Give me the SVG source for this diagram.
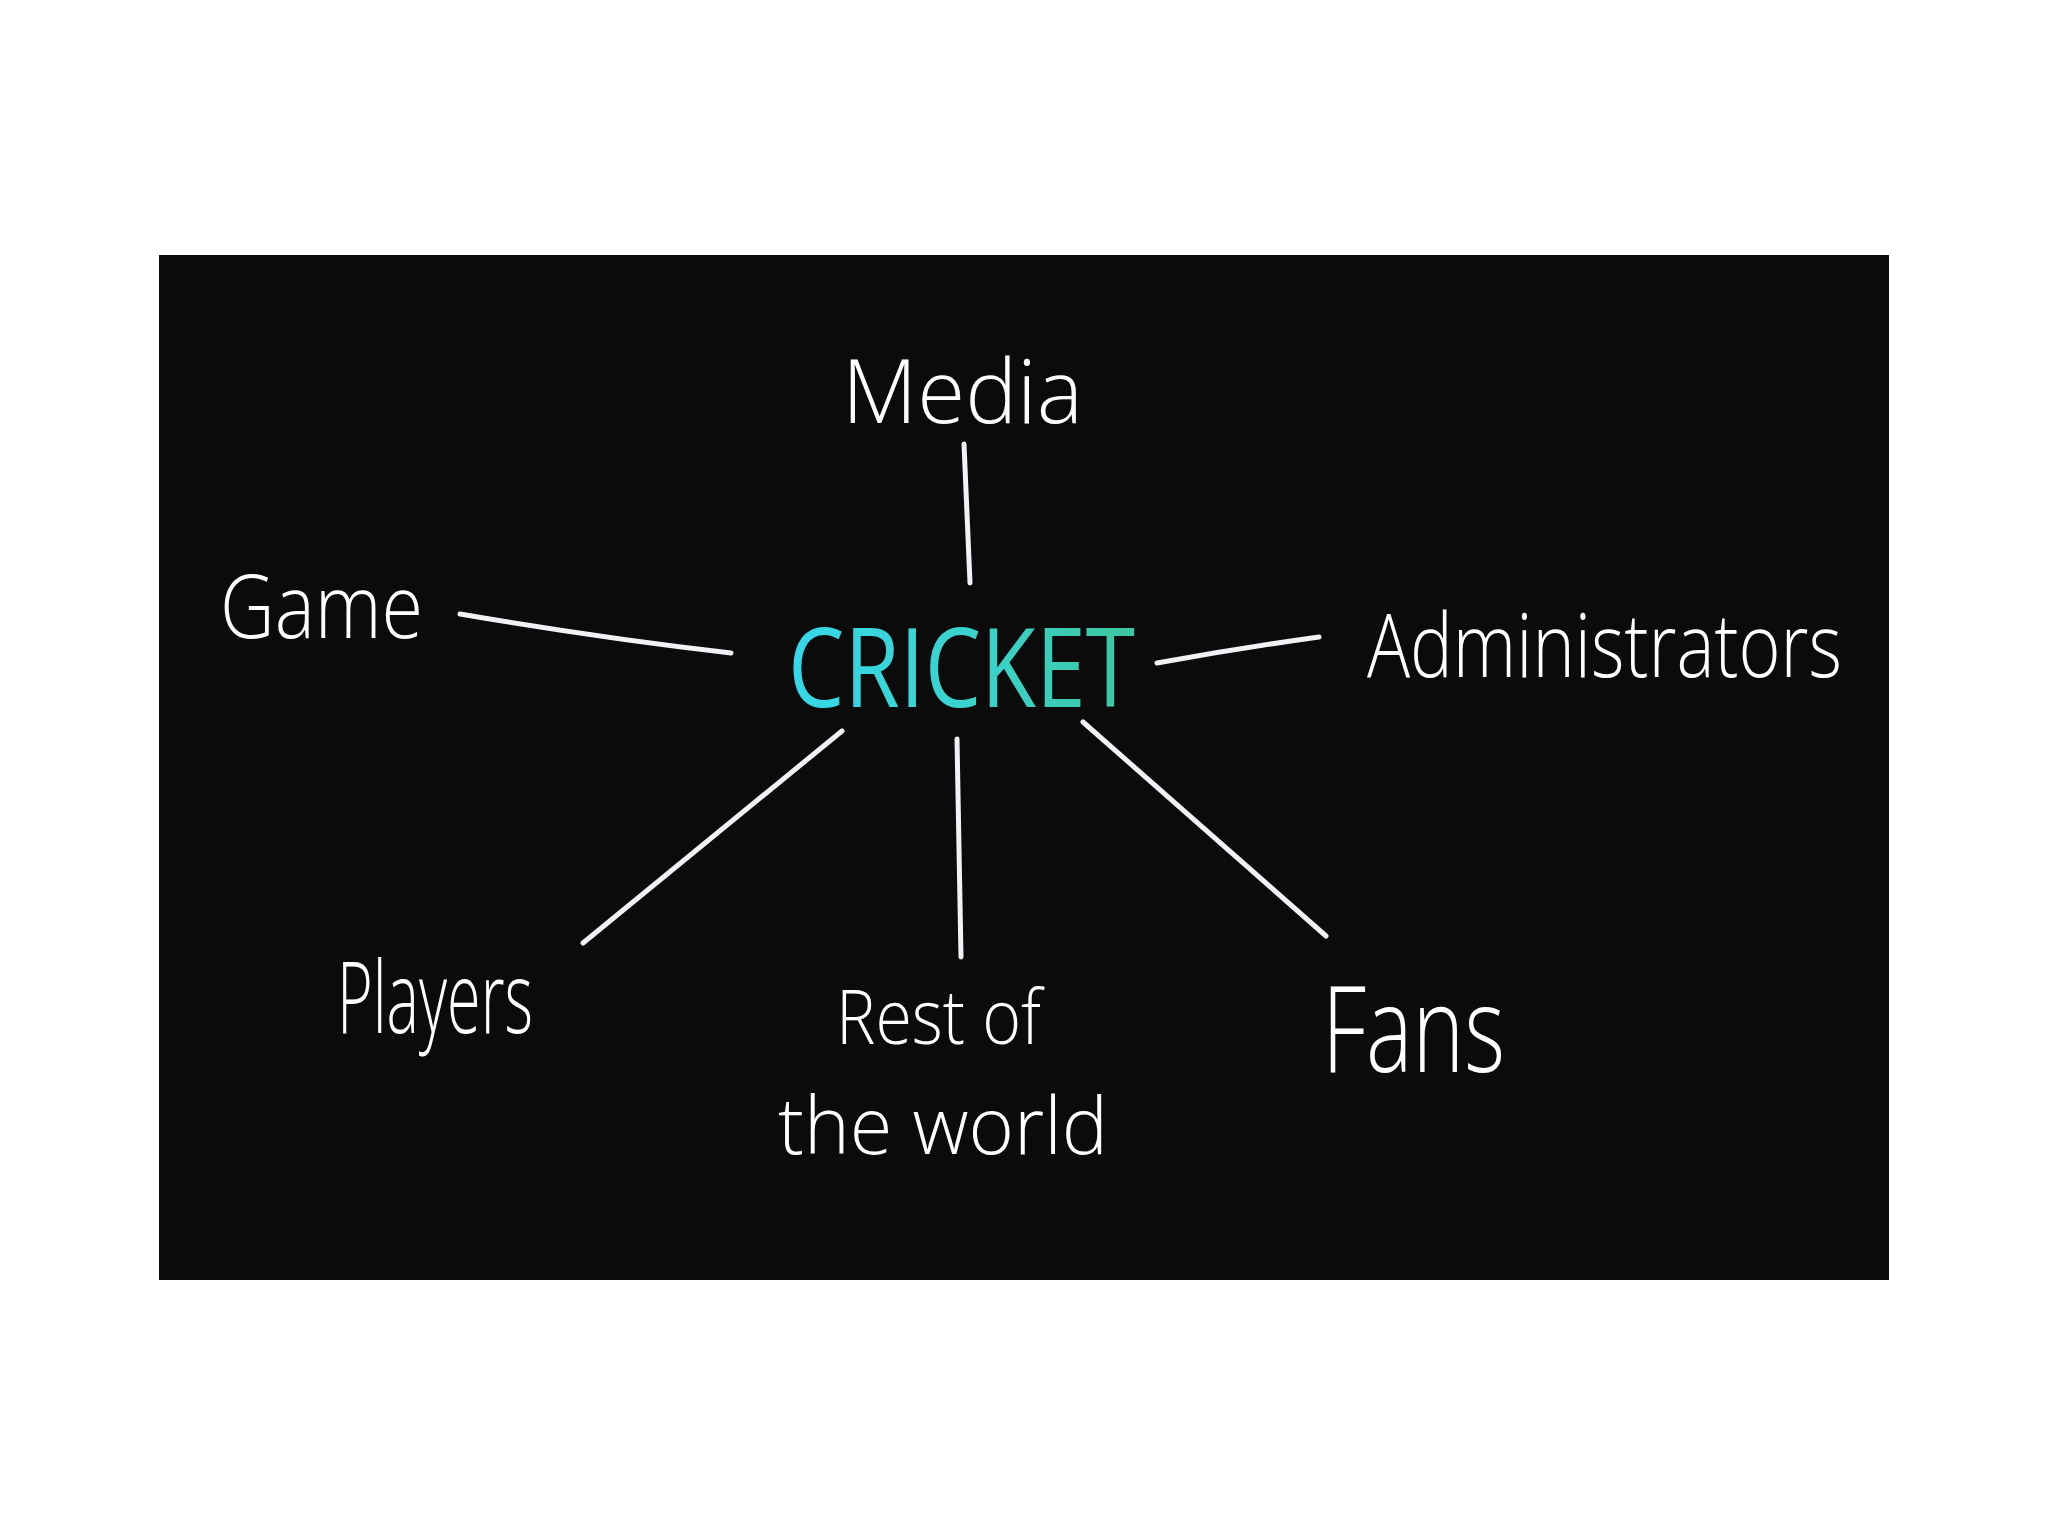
<svg xmlns="http://www.w3.org/2000/svg" width="2048" height="1536" viewBox="0 0 2048 1536">
  <defs>
    <linearGradient id="cg" x1="0" y1="0" x2="1" y2="0">
      <stop offset="0" stop-color="#36d8ea"/>
      <stop offset="0.6" stop-color="#3ad2c8"/>
      <stop offset="1" stop-color="#3cc59e"/>
    </linearGradient>
  </defs>
  <style>
    .lbl { font-family: "Open Sans", "Liberation Sans", sans-serif; fill: #ffffff; font-weight: 300; }
    .conn { stroke: #f2f2f6; stroke-width: 5; fill: none; stroke-linecap: round; }
  </style>
  <rect x="0" y="0" width="2048" height="1536" fill="#ffffff"/>
  <rect x="159" y="255" width="1730" height="1025" fill="#0b0b0c"/>

  <g id="connectors">
    <path class="conn" d="M964,444 L970,583"/>
    <path class="conn" d="M460,614 Q600,638 731,653"/>
    <path class="conn" d="M1157,663 Q1240,648 1319,637"/>
    <path class="conn" d="M842,731 L583,943"/>
    <path class="conn" d="M957,739 L961,957"/>
    <path class="conn" d="M1083,722 L1326,936"/>
  </g>

  <g id="cricket">
    <text x="788" y="707" font-family="Open Sans, Liberation Sans, sans-serif" font-size="110" fill="url(#cg)" textLength="347" lengthAdjust="spacingAndGlyphs">CRICKET</text>
  </g>
  <g id="media">
    <text class="lbl" x="842" y="423" font-size="88" textLength="241" lengthAdjust="spacingAndGlyphs">Media</text>
  </g>
  <g id="game">
    <text class="lbl" x="220" y="638" font-size="88" textLength="203" lengthAdjust="spacingAndGlyphs">Game</text>
  </g>
  <g id="administrators">
    <text class="lbl" x="1367" y="677" font-size="88" textLength="475" lengthAdjust="spacingAndGlyphs">Administrators</text>
  </g>
  <g id="players">
    <text class="lbl" x="337" y="1033" font-size="100" textLength="196" lengthAdjust="spacingAndGlyphs">Players</text>
  </g>
  <g id="rest-of-the-world">
    <text class="lbl" x="836" y="1044" font-size="76" textLength="205" lengthAdjust="spacingAndGlyphs">Rest of</text>
    <text class="lbl" x="778" y="1154" font-size="80" textLength="330" lengthAdjust="spacingAndGlyphs">the world</text>
  </g>
  <g id="fans">
    <text class="lbl" x="1322" y="1072" font-size="120" textLength="183" lengthAdjust="spacingAndGlyphs">Fans</text>
  </g>
</svg>
